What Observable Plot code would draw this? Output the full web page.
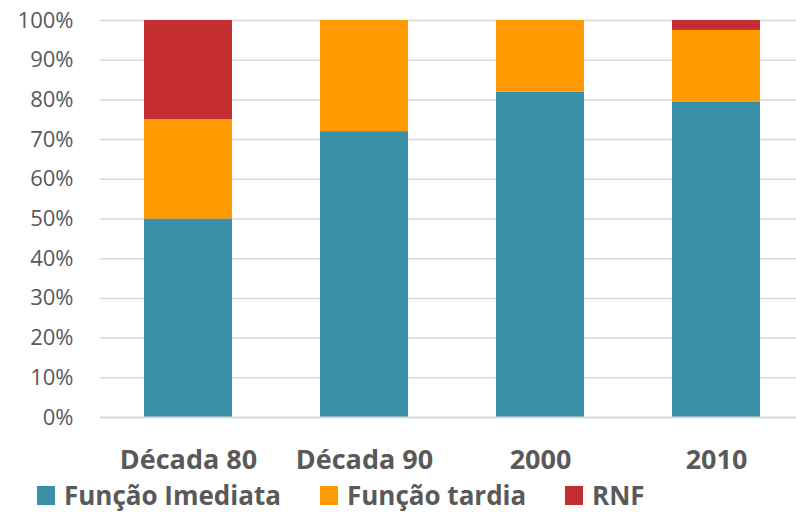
<!DOCTYPE html>
<html>
<head>
<meta charset="utf-8">
<script src="https://cdn.jsdelivr.net/npm/d3@7"></script>
<script src="https://cdn.jsdelivr.net/npm/@observablehq/plot@0.6"></script>
<style>
  body { margin: 0; background: #fff; font-family: "Open Sans", sans-serif; }
  #chart svg { display: block; }
  .legend { position: relative; height: 34px; color: #595959; font-weight: 700; font-size: 26px; }
  .legend .item { position: absolute; top: 0; height: 34px; display: flex; align-items: center; white-space: nowrap; }
  .legend .sw { width: 18px; height: 19px; margin-right: 9px; }
</style>
</head>
<body>
<div id="chart"></div>
<div class="legend" id="legend"></div>
<script>
const categories = ["Década 80", "Década 90", "2000", "2010"];
const series = ["Função Imediata", "Função tardia", "RNF"];
const imediata = [50, 72, 82, 79.5];
const tardia = [25, 28, 18, 18];
const rnf = [25, 0, 0, 2.5];
const colors = ["#3A90A8", "#FF9A00", "#C42E30"];
const yTicks = [0, 10, 20, 30, 40, 50, 60, 70, 80, 90, 100];
const legendLefts = [37, 320, 565];

const values = [imediata, tardia, rnf];
const data = [];
series.forEach((s, si) => categories.forEach((c, ci) => data.push({cat: c, series: s, value: values[si][ci]})));

const chart = Plot.plot({
  width: 796,
  height: 478,
  marginLeft: 100,
  marginRight: 0,
  marginTop: 20,
  marginBottom: 61,
  style: { fontFamily: "Open Sans, sans-serif", color: "#595959", overflow: "visible" },
  x: { domain: categories, range: [100, 804], paddingInner: 0.5, paddingOuter: 0.25, label: null },
  y: { domain: [0, 100], label: null },
  color: { domain: series, range: colors },
  marks: [
    Plot.ruleY(yTicks.filter(d => d > 0), { stroke: "#D9D9D9", strokeWidth: 1.5 }),
    Plot.barY(data, Plot.stackY({ x: "cat", y: "value", fill: "series", order: series })),
    Plot.ruleY([0], { stroke: "#D9D9D9", strokeWidth: 2 }),
    Plot.axisY({ ticks: yTicks, tickSize: 0, tickPadding: 27, tickFormat: d => d + "%", fontSize: 22, fill: "#595959" }),
    Plot.axisX({ tickSize: 0, tickPadding: 32, fontSize: 27, fontWeight: 700, fill: "#595959" })
  ]
});
document.getElementById("chart").appendChild(chart);

const legend = document.getElementById("legend");
series.forEach((s, i) => {
  const item = document.createElement("div");
  item.className = "item";
  item.style.left = legendLefts[i] + "px";
  const sw = document.createElement("div");
  sw.className = "sw";
  sw.style.background = colors[i];
  const t = document.createElement("span");
  t.textContent = s;
  item.appendChild(sw);
  item.appendChild(t);
  legend.appendChild(item);
});
</script>
</body>
</html>
